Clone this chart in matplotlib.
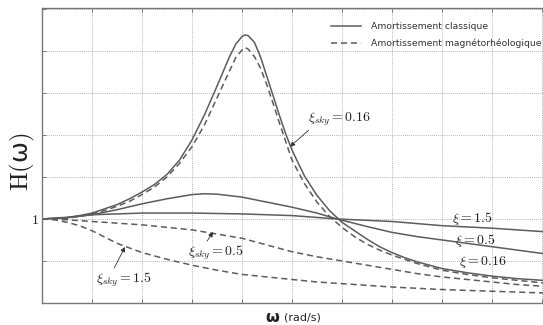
import matplotlib
matplotlib.use("Agg")
import matplotlib.pyplot as plt

plt.rcParams['mathtext.fontset'] = 'cm'

# --- data (x in grid units, y in H units) ---
x_c16 = [0, 0.25, 0.5, 0.75, 1, 1.25, 1.5, 1.75, 2, 2.25, 2.5, 2.75, 3, 3.25, 3.5, 3.75, 3.875, 4.0, 4.06,
         4.125, 4.25, 4.375, 4.5, 4.625, 4.75, 4.875, 5, 5.25, 5.5, 5.75, 6, 6.25, 6.5, 6.75, 7, 7.25, 7.5,
         7.75, 8, 8.5, 9, 9.5, 10, 10.5, 11]
y_c16 = [1.0, 1.005, 1.015, 1.04, 1.07, 1.12, 1.17, 1.24, 1.32, 1.41, 1.53, 1.7, 1.94, 2.24, 2.58, 2.93, 3.08,
         3.17, 3.19, 3.18, 3.1, 2.92, 2.69, 2.46, 2.23, 2.01, 1.82, 1.51, 1.28, 1.1, 0.96, 0.86, 0.76, 0.67,
         0.6, 0.54, 0.49, 0.45, 0.41, 0.36, 0.32, 0.29, 0.27, 0.25, 0.24]

x_c05 = [0, 0.5, 1, 1.5, 2, 2.5, 3, 3.25, 3.5, 4, 4.5, 5, 5.5, 5.9, 6.5, 7, 7.5, 8, 8.5, 9, 9.5, 10, 10.5, 11]
y_c05 = [1.0, 1.015, 1.05, 1.11, 1.18, 1.24, 1.29, 1.3, 1.295, 1.26, 1.2, 1.14, 1.07, 1.0, 0.91, 0.84, 0.79,
         0.75, 0.71, 0.67, 0.63, 0.59, 0.56, 0.53]

x_c15 = [0, 0.5, 1, 1.5, 2, 3, 4, 5, 5.9, 7, 8, 9, 10, 11]
y_c15 = [1.0, 1.02, 1.05, 1.06, 1.07, 1.07, 1.06, 1.04, 1.0, 0.97, 0.92, 0.89, 0.85, 0.82]

x_s16 = [0, 0.25, 0.5, 0.75, 1, 1.25, 1.5, 1.75, 2, 2.25, 2.5, 2.75, 3, 3.25, 3.5, 3.75, 3.875, 4.0, 4.06,
         4.125, 4.25, 4.375, 4.5, 4.625, 4.75, 4.875, 5, 5.25, 5.5, 5.75, 6, 6.25, 6.5, 6.75, 7, 7.25, 7.5,
         7.75, 8, 8.5, 9, 9.5, 10, 10.5, 11]
y_s16 = [1.0, 1.003, 1.01, 1.03, 1.06, 1.1, 1.15, 1.21, 1.29, 1.38, 1.5, 1.66, 1.86, 2.12, 2.44, 2.76, 2.92,
         3.01, 3.04, 3.02, 2.93, 2.79, 2.59, 2.37, 2.14, 1.92, 1.7, 1.42, 1.2, 1.03, 0.9, 0.79, 0.7, 0.63,
         0.57, 0.52, 0.47, 0.43, 0.39, 0.34, 0.3, 0.27, 0.24, 0.22, 0.21]

x_s05 = [0, 0.5, 1, 1.5, 2, 2.5, 3, 3.5, 4, 4.5, 5, 5.5, 6, 6.5, 7, 7.5, 8, 8.5, 9, 9.5, 10, 10.5, 11]
y_s05 = [1.0, 0.99, 0.97, 0.95, 0.93, 0.9, 0.87, 0.82, 0.77, 0.69, 0.61, 0.55, 0.5, 0.45, 0.4, 0.35, 0.31,
         0.28, 0.25, 0.22, 0.2, 0.18, 0.17]

x_s15 = [0, 0.25, 0.5, 0.75, 1, 1.5, 2, 2.5, 3, 3.5, 4, 4.5, 5, 5.5, 6, 7, 8, 9, 10, 11]
y_s15 = [1.0, 0.99, 0.96, 0.92, 0.86, 0.71, 0.6, 0.52, 0.45, 0.39, 0.34, 0.31, 0.28, 0.25, 0.23, 0.19, 0.16,
         0.14, 0.12, 0.11]

legend_labels = ["Amortissement classique", "Amortissement magnétorhéologique"]

W, H = 543, 325
fig = plt.figure(figsize=(W / 100, H / 100), dpi=100)
ax = fig.add_axes([42 / W, 22 / H, 550 / W, 295 / H])

col = '#5c5c5c'
lw = 1.1
dash = (0, (4, 2.5))
l1, = ax.plot(x_c16, y_c16, color=col, lw=lw)
ax.plot(x_c05, y_c05, color=col, lw=lw)
ax.plot(x_c15, y_c15, color=col, lw=lw)
l2, = ax.plot(x_s16, y_s16, color=col, lw=lw, linestyle=dash)
ax.plot(x_s05, y_s05, color=col, lw=lw, linestyle=dash)
ax.plot(x_s15, y_s15, color=col, lw=lw, linestyle=dash)

ax.set_xlim(0, 11)
ax.set_ylim(0, 3.51)
ax.set_xticks(range(0, 12))
ax.set_xticklabels([])
yt = [0, 0.5, 1, 1.5, 2, 2.5, 3, 3.5]
ax.set_yticks(yt)
ax.set_yticklabels(['$1$' if v == 1 else '' for v in yt], fontsize=10)
ax.tick_params(direction='in', length=3, width=0.6, color='#666666',
               top=True, right=True, pad=2, labelcolor='#222222')
ax.grid(True, linestyle=(0, (1, 1.5)), color='#9a9a9a', lw=0.6)
for s in ax.spines.values():
    s.set_color('#777777')
    s.set_linewidth(1.0)

leg = fig.legend([l1, l2], legend_labels, loc='upper left',
                 bbox_to_anchor=(331 / W, 1 - 22 / H), frameon=False,
                 fontsize=6.7, handlelength=3.2, handletextpad=1.15,
                 borderpad=0, borderaxespad=0, labelspacing=0.85)
for t in leg.get_texts():
    t.set_color('#333333')

akw = dict(arrowstyle='-|>', color='#333333', lw=0.6, mutation_scale=7,
           shrinkA=0, shrinkB=0)
ax.annotate(r'$\xi_{sky} = 0.16$', xy=(4.96, 1.86), xytext=(5.96, 2.19),
            ha='center', va='center', fontsize=10, color='#222222',
            arrowprops=dict(relpos=(0.05, 0.0), **akw))
ax.annotate(r'$\xi_{sky} = 0.5$', xy=(3.42, 0.845), xytext=(3.48, 0.595),
            ha='center', va='center', fontsize=10, color='#222222',
            arrowprops=dict(relpos=(0.31, 1.0), **akw))
ax.annotate(r'$\xi_{sky} = 1.5$', xy=(1.66, 0.667), xytext=(1.64, 0.274),
            ha='center', va='center', fontsize=10, color='#222222',
            arrowprops=dict(relpos=(0.3, 1.0), **akw))
ax.text(8.6, 1.0, r'$\xi = 1.5$', ha='center', va='center', fontsize=10, color='#222222')
ax.text(8.66, 0.738, r'$\xi = 0.5$', ha='center', va='center', fontsize=10, color='#222222')
ax.text(8.82, 0.488, r'$\xi = 0.16$', ha='center', va='center', fontsize=10, color='#222222')

fig.text(22 / W, 1 - 162 / H, r'$\mathrm{H}($ω$)$', rotation=90, ha='center', va='center',
         fontsize=18, color='#222222')
fig.text(272 / W, 1 - 317 / H, 'ω', ha='center', va='center', fontsize=11.5,
         fontweight='bold', color='#222222')
fig.text(284 / W, 1 - 317 / H, '(rad/s)', ha='left', va='center', fontsize=8, color='#222222')

fig.savefig('out.png', dpi=100)
